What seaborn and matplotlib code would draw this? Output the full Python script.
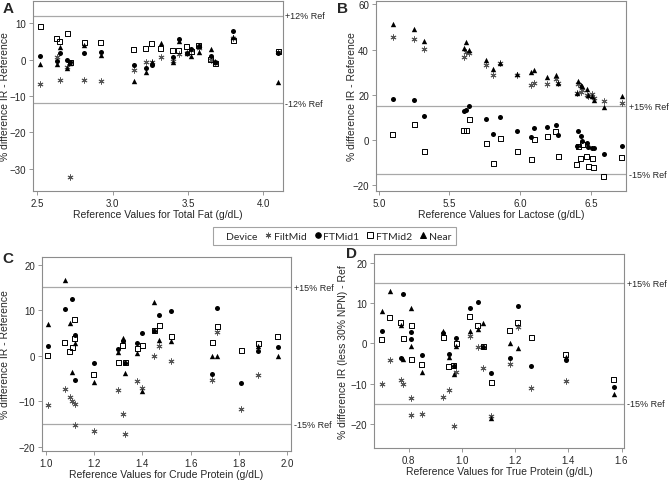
import matplotlib
matplotlib.use("Agg")
import matplotlib.pyplot as plt
import matplotlib.transforms as mtransforms
from matplotlib.lines import Line2D
import seaborn as sns
import numpy as np
import pandas as pd

nan = np.nan

devices = ["FiltMid", "FTMid1", "FTMid2", "Near"]

# Panel A - total fat
fat_x = [2.52, 2.63, 2.65, 2.70, 2.72, 2.81, 2.92, 3.14, 3.22, 3.26, 3.32, 3.40, 3.44, 3.49, 3.52, 3.57, 3.65, 3.68, 3.80, 4.10]
fat_filtmid = [-6.8, 0.7, -5.7, -2.0, -32.2, -5.7, -5.8, -2.9, -0.8, -0.6, 0.8, -0.5, 1.5, 1.9, 2.5, 3.2, 0.0, -0.8, 6.0, 2.0]
fat_ftmid1 = [1.1, -0.4, 1.9, 0.0, -0.8, 1.7, 2.0, -1.6, -2.2, -1.5, nan, 0.8, 5.7, 1.9, 3.0, 3.6, 1.0, -0.8, 7.9, 1.7]
fat_ftmid2 = [9.2, 5.8, 4.9, 7.1, -0.7, 4.7, 4.7, 2.8, 3.0, 4.3, 3.0, 2.6, 2.6, 3.7, 2.3, 3.8, 0.0, -1.0, 5.2, 2.2]
fat_near = [-1.3, -1.3, 3.4, -2.3, -0.9, 3.9, 1.3, -5.8, -3.5, -0.8, 4.5, -0.6, 5.2, 1.9, 1.0, 2.2, 2.9, -0.8, 6.3, -6.1]

# Panel B - lactose
lac_x = [5.10, 5.25, 5.32, 5.60, 5.62, 5.64, 5.76, 5.81, 5.86, 5.98, 6.08, 6.10, 6.19, 6.25, 6.27,
         6.40, 6.41, 6.43, 6.44, 6.47, 6.48, 6.51, 6.52, 6.59, 6.72]
lac_filtmid = [45.5, 44.8, 40.1, 36.9, 39.1, 38.6, 33.0, 28.6, 34.0, 28.8, 24.4, 25.3, 25.0, 26.9, 25.3,
               20.8, 25.0, 21.5, 22.0, 20.0, 19.6, 20.3, 18.5, 17.4, 16.3]
lac_ftmid1 = [18.2, 17.6, 10.7, 12.9, 13.3, 15.0, 9.3, 2.9, 10.4, 4.1, 1.5, 5.4, 5.9, 6.6, 2.1,
              -2.5, 4.0, 1.8, -0.4, -1.3, -2.8, -3.4, -3.3, -5.9, -2.6]
lac_ftmid2 = [2.5, 6.8, -5.0, 4.4, 4.3, 9.3, -1.4, -10.3, 0.9, -4.9, -8.4, 0.3, 1.5, 4.0, -7.2,
              -10.9, -2.9, -7.9, -2.0, -7.4, -11.6, -8.2, -12.2, -16.0, -7.5]
lac_near = [51.5, 49.1, 44.0, 40.6, 43.2, 39.8, 35.4, 31.3, 34.3, 29.1, 29.9, 31.0, 28.1, 29.0, 25.3,
            20.7, 26.3, 24.3, 24.0, 22.8, 20.0, 19.4, 17.9, 14.7, 19.6]

# Panel C - crude protein
cp_x = [1.01, 1.08, 1.10, 1.11, 1.12, 1.12, 1.20, 1.30, 1.32, 1.33, 1.38, 1.40, 1.45, 1.47, 1.52,
        1.69, 1.71, 1.81, 1.88, 1.96]
cp_filtmid = [-10.8, -7.3, -9.0, -9.9, -10.6, -15.2, -16.5, -7.5, -12.8, -17.2, -5.6, -7.1, 0.0, 2.2, -1.2,
              -5.3, 5.2, -11.6, -4.2, nan]
cp_ftmid1 = [2.1, 10.3, nan, 12.5, 4.5, -5.3, -1.6, 1.6, 3.3, -1.5, 2.9, 5.1, 5.5, 8.9, 9.9,
             -4.0, 10.5, -6.0, 1.1, 2.0]
cp_ftmid2 = [0.0, 2.9, 1.0, 1.8, 3.7, 8.0, -4.0, -1.5, 2.3, -1.5, 1.5, 2.2, 5.5, 6.7, 4.2,
             3.0, 6.4, 1.2, 2.8, 4.2]
cp_near = [7.0, 16.6, 7.3, -3.5, 2.7, nan, -5.7, 0.8, 3.9, -3.7, 0.7, -7.8, 11.7, 3.4, 3.3,
           0.0, 0.0, nan, 2.2, 0.0]

# Panel D - true protein
tp_x = [0.70, 0.73, 0.77, 0.78, 0.81, 0.81, 0.85, 0.93, 0.95, 0.97, 0.98, 1.03, 1.06, 1.08, 1.11,
        1.18, 1.21, 1.26, 1.39, 1.57]
tp_filtmid = [-10.0, -4.1, -9.0, -10.2, -13.5, -17.8, -17.6, -13.4, -11.5, -20.5, -7.2, 1.9, -0.9, -6.0, -18.0,
              -5.1, 4.1, -11.0, -9.4, nan]
tp_ftmid1 = [3.0, nan, -3.7, 12.2, 2.8, 1.0, -3.0, 2.6, -2.7, -5.5, 1.4, 8.8, 10.3, -0.8, -7.3,
             -3.7, 9.4, -5.6, -4.2, -10.8]
tp_ftmid2 = [0.9, 6.4, 5.3, 1.3, 4.5, -4.1, -5.3, 1.5, -5.8, -5.5, 0.0, 6.6, 4.4, -0.8, -9.8,
             3.2, 5.3, 1.6, -2.7, -9.0]
tp_near = [8.0, 13.1, 4.5, -3.8, 8.9, -0.7, -7.0, 3.2, -3.3, -7.7, -0.7, 3.2, 3.6, 5.1, -18.5,
           0.2, -1.1, nan, -3.3, -12.6]

sns.set_theme(style="white")
plt.rcParams["font.family"] = ["Liberation Sans", "DejaVu Sans"]

marker_kw = {
    "FiltMid": dict(marker=(6, 2, 0), s=14, color="#555555", linewidth=0.7),
    "FTMid1": dict(marker="o", s=13, color="black", linewidth=0),
    "FTMid2": dict(marker="s", s=13, facecolor="none", edgecolor="black", linewidth=0.7),
    "Near": dict(marker="^", s=15, color="black", linewidth=0),
}


def draw_panel(ax, x, series, ref, xlim, ylim, xticks, yticks, xlabel, ylabel, ylab_x):
    df = pd.DataFrame({"x": x, **dict(zip(devices, series))})
    long = df.melt(id_vars="x", var_name="Device", value_name="diff").dropna()
    for dev in devices:
        sub = long[long["Device"] == dev]
        sns.scatterplot(data=sub, x="x", y="diff", ax=ax, legend=False, **marker_kw[dev])
    for r in (ref, -ref):
        ax.axhline(r, color="#a8a8a8", lw=0.9, zorder=0)
    trans = mtransforms.blended_transform_factory(ax.transAxes, ax.transData)
    ax.text(1.01, ref, f"+{ref}% Ref", transform=trans, va="center", ha="left", fontsize=6.5)
    ax.text(1.01, -ref, f"-{ref}% Ref", transform=trans, va="center", ha="left", fontsize=6.5)
    ax.set_xlim(xlim)
    ax.set_ylim(ylim)
    ax.set_xticks(xticks)
    ax.set_yticks(yticks)
    ax.set_xlabel(xlabel, fontsize=7.5, labelpad=1)
    ax.set_ylabel(ylabel, fontsize=7.5)
    ax.yaxis.set_label_coords(ylab_x, 0.5)
    ax.tick_params(axis="both", labelsize=7, length=3, width=0.6, color="#888888",
                   bottom=True, left=True, pad=2)
    for sp in ax.spines.values():
        sp.set_color("#8c8c8c")
        sp.set_linewidth(0.8)


fig = plt.figure(figsize=(6.69, 4.81), dpi=100)
ax_a = fig.add_axes([0.049, 0.601, 0.374, 0.395])
ax_b = fig.add_axes([0.562, 0.601, 0.374, 0.395])
ax_c = fig.add_axes([0.063, 0.060, 0.372, 0.404])
ax_d = fig.add_axes([0.559, 0.067, 0.374, 0.403])

draw_panel(ax_a, fat_x, [fat_filtmid, fat_ftmid1, fat_ftmid2, fat_near], 12,
           (2.47, 4.13), (-36.1, 16.1), [2.5, 3.0, 3.5, 4.0], [-30, -20, -10, 0, 10],
           "Reference Values for Total Fat (g/dL)", "% difference IR - Reference", -0.092)
draw_panel(ax_b, lac_x, [lac_filtmid, lac_ftmid1, lac_ftmid2, lac_near], 15,
           (4.98, 6.75), (-22.4, 61.5), [5.0, 5.5, 6.0, 6.5], [-20, 0, 20, 40, 60],
           "Reference Values for Lactose (g/dL)", "% difference IR - Reference", -0.076)
draw_panel(ax_c, cp_x, [cp_filtmid, cp_ftmid1, cp_ftmid2, cp_near], 15,
           (0.986, 2.015), (-20.9, 21.7), [1.0, 1.2, 1.4, 1.6, 1.8, 2.0], [-20, -10, 0, 10, 20],
           "Reference Values for Crude Protein (g/dL)", "% difference IR - Reference", -0.129)
draw_panel(ax_d, tp_x, [tp_filtmid, tp_ftmid1, tp_ftmid2, tp_near], 15,
           (0.67, 1.61), (-26.0, 22.3), [0.8, 1.0, 1.2, 1.4, 1.6], [-20, -10, 0, 10, 20],
           "Reference Values for True Protein (g/dL)", "% difference IR (less 30% NPN) - Ref", -0.104)

# panel letters
for letter, fx, fy in [("A", 3, 2), ("B", 337, 2), ("C", 2, 252), ("D", 346, 247)]:
    fig.text(fx / 669, 1 - fy / 481, letter, fontsize=11, fontweight="bold", va="top", ha="left")

handles = [Line2D([], [], linestyle="none")]
labels = ["Device"]
for dev in devices:
    kw = marker_kw[dev]
    h = Line2D([], [], linestyle="none", marker=kw["marker"], markersize=4,
               markerfacecolor=kw.get("facecolor", kw.get("color")),
               markeredgecolor=kw.get("edgecolor", kw.get("color")), markeredgewidth=0.7)
    handles.append(h)
    labels.append(dev)
leg = fig.legend(handles, labels, loc="center", bbox_to_anchor=(0.5, 0.507), ncol=5,
                 frameon=True, fancybox=False, handlelength=0.5,
                 handletextpad=0.3, columnspacing=0.8, borderpad=0.45, borderaxespad=0,
                 prop={"family": ["Lato", "DejaVu Sans"], "size": 7.5})
leg.get_frame().set_edgecolor("#8c8c8c")
leg.get_frame().set_linewidth(0.8)

fig.savefig("out.png", dpi=100)
